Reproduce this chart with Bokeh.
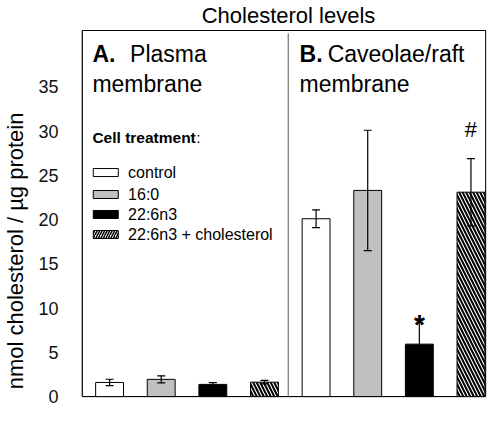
import numpy as np
from bokeh.plotting import figure
from bokeh.models import ColumnDataSource, Whisker, TeeHead, Label, FixedTicker
from bokeh.embed import file_html
from bokeh.resources import INLINE

# ---------------- data ----------------
treatments = ["control", "16:0", "22:6n3", "22:6n3 + cholesterol"]
panels = ["Plasma membrane", "Caveolae/raft membrane"]
plasma_mean = [1.6, 1.95, 1.38, 1.63]
plasma_err = [0.36, 0.4, 0.2, 0.2]
raft_mean = [20.1, 23.3, 5.93, 23.1]
raft_err = [1.0, 6.8, 2.7, 3.8]
y_ticks = [0, 5, 10, 15, 20, 25, 30, 35]

# ---------------- layout constants (data units) ----------------
FONT = "Liberation Sans"
X0, X1 = -0.641, 7.301
Y0, Y1 = -0.1, 44.76
BOX_L, BOX_R, BOX_T = -0.529, 7.286, 41.37
DIV_X, DIV_T = 3.46, 41.04

fills = ["white", "#c0c0c0", "black", "white"]
hatches = ["", "", "", "\\"]

pos = list(range(8))
means = plasma_mean + raft_mean
errs = plasma_err + raft_err
src = ColumnDataSource(dict(
    x=pos,
    top=means,
    upper=[m + e for m, e in zip(means, errs)],
    lower=[m - e for m, e in zip(means, errs)],
    fill=fills * 2,
    hatch=hatches * 2,
))

p = figure(width=487, height=408, output_backend="svg", toolbar_location=None,
           x_axis_location=None, x_range=(X0, X1), y_range=(Y0, Y1),
           min_border_left=73, min_border_right=1, min_border_top=0, min_border_bottom=11)
p.xgrid.visible = False
p.ygrid.visible = False
p.outline_line_color = None
p.background_fill_color = "white"

yax = p.yaxis[0]
yax.ticker = FixedTicker(ticks=y_ticks)
yax.axis_line_color = None
yax.major_tick_line_color = None
yax.minor_tick_line_color = None
yax.major_label_standoff = 12
yax.major_label_text_font = FONT
yax.major_label_text_font_size = "18px"
yax.major_label_text_color = "#111111"
yax.axis_label = "nmol cholesterol / \u00b5g protein" + "\u00a0" * 17
yax.axis_label_text_font = FONT
yax.axis_label_text_font_size = "22px"
yax.axis_label_text_font_style = "normal"
yax.axis_label_text_color = "black"
yax.axis_label_standoff = 7

# plot box
p.segment(x0=[BOX_L, BOX_R, BOX_L, BOX_L], x1=[BOX_L, BOX_R, BOX_R, BOX_R],
          y0=[0, 0, BOX_T, 0], y1=[BOX_T, BOX_T, BOX_T, 0],
          line_color="black", line_width=1.2)

p.vbar(x="x", top="top", bottom=0, width=0.54, source=src, fill_color="fill",
       line_color="black", line_width=1, hatch_pattern="hatch", hatch_color="black",
       hatch_scale=7, hatch_weight=2)

w = Whisker(base="x", upper="upper", lower="lower", source=src, level="annotation",
            line_color="black", line_width=1.2,
            upper_head=TeeHead(size=8, line_width=1.2, line_color="black"),
            lower_head=TeeHead(size=8, line_width=1.2, line_color="black"))
p.add_layout(w)

# divider between panels
p.segment(x0=[DIV_X], x1=[DIV_X], y0=[Y0], y1=[DIV_T], line_color="#555555", line_width=1)

def lab(x, y, text, size, style="normal", align="left", baseline="alphabetic"):
    p.add_layout(Label(x=x, y=y, text=text, text_font=FONT, text_font_size=size,
                       text_font_style=style, text_align=align, text_baseline=baseline,
                       text_color="black"))

# title
lab(3.465, 43.04, "Cholesterol levels", "22px", align="center")

# panel labels
lab(-0.333, 38.77, "A.", "23px", style="bold")
lab(0.397, 38.77, "Plasma", "23px")
lab(-0.333, 35.38, "membrane", "23px")
lab(3.68, 38.77, "B.", "23px", style="bold")
lab(4.224, 38.77, "Caveolae/raft", "23px")
lab(3.68, 35.38, "membrane", "23px")

# legend
lab(-0.333, 29.28, "Cell treatment", "15.5px", style="bold", baseline="middle")
lab(1.68, 29.28, ":", "15.5px", baseline="middle")
leg_y = [25.32, 22.84, 20.58, 18.32]
leg_hatch = ["", "", "", "/"]
p.rect(x=[-0.074] * 4, y=leg_y, width=25, height=8, width_units="screen",
       height_units="screen", fill_color=fills, line_color="black", line_width=1,
       hatch_pattern=leg_hatch, hatch_color="black", hatch_scale=5, hatch_weight=1.5)
for yy, t in zip(leg_y, treatments):
    lab(0.359, yy, t, "16px", baseline="middle")

# significance marks
lab(6.0, 8.2, "*", "28px", style="bold", align="center")
lab(7.0, 30.2, "#", "22px", align="center")

open("out.html", "w").write(file_html(p, INLINE))
